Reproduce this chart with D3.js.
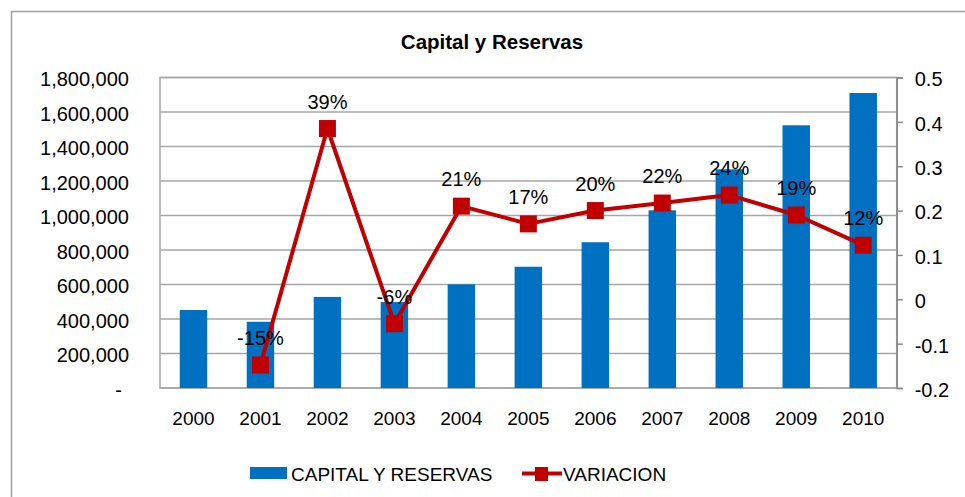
<!DOCTYPE html>
<html>
<head>
<meta charset="utf-8">
<script src="https://cdn.jsdelivr.net/npm/d3@7"></script>
<style>
  body { margin: 0; background: #fff; }
  svg { display: block; font-family: "Liberation Sans", Arial, sans-serif; }
</style>
</head>
<body>
<div id="viz"></div>
<script>
/* Capital y Reservas - bars on the left axis, growth line on the right axis */

var years = ['2000', '2001', '2002', '2003', '2004', '2005', '2006', '2007', '2008', '2009', '2010'];
var capital = [452000, 384000, 528000, 498000, 601000, 703000, 845000, 1030000, 1268000, 1523000, 1710000];
var variacion = [null, -0.148, 0.385, -0.055, 0.21, 0.17, 0.2, 0.217, 0.235, 0.19, 0.122];
var leftTicks = [0, 200000, 400000, 600000, 800000, 1000000, 1200000, 1400000, 1600000, 1800000];
var rightTicks = [-0.2, -0.1, 0, 0.1, 0.2, 0.3, 0.4, 0.5];

var W = 965, H = 497,
    plot = { left: 160, right: 896.7, top: 77.5, bottom: 388 },
    blue = '#0070c0',
    red = '#c00000',
    grid = '#a6a6a6';

// excel style: plain hyphen for negatives
var hyphen = function(s) { return s.replace('\u2212', '-'); };

var svg = d3.select('#viz').append('svg')
    .attr('width', W)
    .attr('height', H);

// chart area border (runs off the picture on the right and bottom)
svg.append('rect')
    .attr('x', 11.5).attr('y', 11.5)
    .attr('width', 1000).attr('height', 1000)
    .attr('fill', 'none')
    .attr('stroke', '#a0a0a0')
    .attr('stroke-width', 1.5);

svg.append('text')
    .attr('x', 492).attr('y', 49)
    .attr('text-anchor', 'middle')
    .attr('font-size', 20.5)
    .attr('font-weight', 'bold')
    .attr('fill', '#000')
    .text('Capital y Reservas');

var x = d3.scaleBand()
    .domain(years)
    .range([plot.left, plot.right])
    .paddingInner(0.59)
    .paddingOuter(0.295);

var yLeft = d3.scaleLinear()
    .domain([0, 1800000])
    .range([plot.bottom, plot.top]);

var yRight = d3.scaleLinear()
    .domain([-0.2, 0.5])
    .range([plot.bottom, plot.top]);

// gridlines
svg.append('g')
    .selectAll('line').data(leftTicks)
    .enter().append('line')
      .attr('x1', plot.left).attr('x2', plot.right)
      .attr('y1', function(d) { return yLeft(d); })
      .attr('y2', function(d) { return yLeft(d); })
      .attr('stroke', grid)
      .attr('stroke-width', 1.5);

// plot border
svg.append('rect')
    .attr('x', plot.left).attr('y', plot.top)
    .attr('width', plot.right - plot.left)
    .attr('height', plot.bottom - plot.top)
    .attr('fill', 'none')
    .attr('stroke', grid)
    .attr('stroke-width', 1.5);

// left axis labels
var leftAxis = d3.axisLeft(yLeft)
    .tickValues(leftTicks)
    .tickSize(0)
    .tickPadding(31)
    .tickFormat(function(d) { return d === 0 ? '-' : d3.format(',')(d); });

var gl = svg.append('g')
    .attr('transform', 'translate(' + plot.left + ',0)')
    .call(leftAxis);
gl.select('.domain').remove();
gl.selectAll('text')
    .attr('font-size', 20)
    .attr('font-family', '"Liberation Sans", Arial, sans-serif')
    .attr('fill', '#000')
    .attr('dy', '0.4em')
    .attr('dx', function(d) { return d === 0 ? -7 : 0; });

// right axis
var rightAxis = d3.axisRight(yRight)
    .tickValues(rightTicks)
    .tickSize(6)
    .tickPadding(12)
    .tickFormat(function(d) { return hyphen(d3.format('')(+d.toFixed(1))); });

var gr = svg.append('g')
    .attr('transform', 'translate(' + plot.right + ',0)')
    .call(rightAxis);
gr.select('.domain').attr('stroke', '#868686').attr('stroke-width', 1.5);
gr.selectAll('.tick line').attr('stroke', '#868686').attr('stroke-width', 1.5);
gr.selectAll('text')
    .attr('font-size', 20)
    .attr('font-family', '"Liberation Sans", Arial, sans-serif')
    .attr('fill', '#000')
    .attr('dy', '0.42em');

// x axis labels
var xAxis = d3.axisBottom(x)
    .tickSize(0)
    .tickPadding(24);

var gx = svg.append('g')
    .attr('transform', 'translate(0,' + plot.bottom + ')')
    .call(xAxis);
gx.select('.domain').remove();
gx.selectAll('text')
    .attr('font-size', 19)
    .attr('font-family', '"Liberation Sans", Arial, sans-serif')
    .attr('fill', '#000');

// bars
svg.append('g')
    .selectAll('rect').data(capital)
    .enter().append('rect')
      .attr('x', function(d, i) { return x(years[i]); })
      .attr('y', function(d) { return yLeft(d); })
      .attr('width', x.bandwidth())
      .attr('height', function(d) { return plot.bottom - yLeft(d); })
      .attr('fill', blue);

// variation line
var pts = variacion.map(function(v, i) { return { year: years[i], v: v }; })
    .filter(function(d) { return d.v !== null; });

var line = d3.line()
    .x(function(d) { return x(d.year) + x.bandwidth() / 2; })
    .y(function(d) { return yRight(d.v); });

svg.append('path')
    .datum(pts)
    .attr('d', line)
    .attr('fill', 'none')
    .attr('stroke', red)
    .attr('stroke-width', 4)
    .attr('stroke-linejoin', 'round');

var ms = 17;
svg.append('g')
    .selectAll('rect').data(pts)
    .enter().append('rect')
      .attr('x', function(d) { return x(d.year) + x.bandwidth() / 2 - ms / 2; })
      .attr('y', function(d) { return yRight(d.v) - ms / 2; })
      .attr('width', ms)
      .attr('height', ms)
      .attr('fill', red);

svg.append('g')
    .selectAll('text').data(pts)
    .enter().append('text')
      .attr('x', function(d) { return x(d.year) + x.bandwidth() / 2; })
      .attr('y', function(d) { return yRight(d.v) - 20; })
      .attr('text-anchor', 'middle')
      .attr('font-size', 20)
      .attr('fill', '#000')
      .text(function(d) { return hyphen(d3.format('.0%')(d.v)); });

// legend
var legend = svg.append('g');

legend.append('rect')
    .attr('x', 250).attr('y', 467)
    .attr('width', 37).attr('height', 12)
    .attr('fill', blue);

legend.append('text')
    .attr('x', 291).attr('y', 481)
    .attr('font-size', 19)
    .attr('fill', '#000')
    .text('CAPITAL Y RESERVAS');

legend.append('line')
    .attr('x1', 522).attr('x2', 562)
    .attr('y1', 473.5).attr('y2', 473.5)
    .attr('stroke', red)
    .attr('stroke-width', 4);

legend.append('rect')
    .attr('x', 535).attr('y', 467)
    .attr('width', 13).attr('height', 14)
    .attr('fill', red);

legend.append('text')
    .attr('x', 563).attr('y', 481)
    .attr('font-size', 19)
    .attr('fill', '#000')
    .text('VARIACION');
</script>
</body>
</html>
